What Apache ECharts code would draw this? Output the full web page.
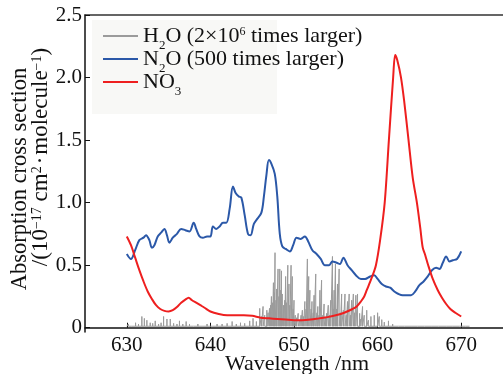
<!DOCTYPE html>
<html><head><meta charset="utf-8">
<script src="https://cdn.jsdelivr.net/npm/echarts@6/dist/echarts.min.js"></script>
<style>html,body{margin:0;padding:0;background:#fff}#c{width:503px;height:374px}</style>
</head><body><div id="c"></div>
<script>
const xTicks = [630, 640, 650, 660, 670];
const yTicks = [0, 0.5, 1.0, 1.5, 2.0, 2.5];
const seriesNames = ['H2O', 'N2O', 'NO3'];
const legendLabels = {
  'H2O': 'H{sub|2}O (2×10{sup|6} times larger)',
  'N2O': 'N{sub|2}O (500 times larger)',
  'NO3': 'NO{sub|3}'
};
const n2o = [[630,0.59],[630.5,0.55],[631,0.62],[631.5,0.70],[632,0.72],[632.3,0.74],[632.7,0.70],[633,0.64],[633.3,0.66],[633.7,0.73],[634.1,0.76],[634.5,0.79],[634.8,0.74],[635.1,0.68],[635.5,0.72],[636,0.75],[636.5,0.79],[637,0.78],[637.5,0.77],[638,0.84],[638.3,0.79],[638.7,0.73],[639.1,0.72],[639.6,0.73],[640,0.73],[640.3,0.81],[640.7,0.79],[641.1,0.81],[641.5,0.84],[641.9,0.84],[642.3,0.95],[642.7,1.13],[643,1.08],[643.4,1.05],[643.7,1.04],[644.1,0.90],[644.5,0.75],[644.8,0.74],[645.2,0.83],[645.6,0.87],[646.1,0.92],[646.4,1.05],[646.7,1.22],[647.0,1.34],[647.3,1.31],[647.7,1.23],[648.0,1.05],[648.3,0.75],[648.6,0.65],[649.0,0.63],[649.5,0.61],[649.9,0.66],[650.3,0.72],[650.8,0.71],[651.3,0.73],[651.7,0.69],[652.2,0.62],[652.7,0.59],[653.2,0.55],[653.7,0.50],[654.2,0.50],[654.6,0.53],[655.1,0.52],[655.5,0.51],[655.9,0.56],[656.4,0.50],[656.9,0.46],[657.4,0.42],[658,0.39],[658.5,0.39],[659.1,0.41],[659.6,0.42],[660,0.39],[660.5,0.35],[661,0.33],[661.5,0.32],[662,0.29],[662.5,0.27],[663,0.26],[663.5,0.26],[664,0.26],[664.5,0.29],[665,0.34],[665.5,0.37],[666,0.41],[666.5,0.46],[667,0.48],[667.4,0.47],[667.8,0.52],[668.2,0.57],[668.6,0.53],[669,0.54],[669.5,0.55],[670,0.61]];
const no3 = [[630,0.73],[630.5,0.66],[631,0.56],[631.5,0.46],[632,0.37],[632.5,0.29],[633,0.23],[633.5,0.18],[634,0.15],[634.5,0.135],[635,0.13],[635.5,0.14],[636,0.165],[636.5,0.20],[637,0.225],[637.4,0.24],[637.8,0.22],[638.3,0.20],[638.8,0.18],[639.3,0.16],[640,0.13],[641,0.11],[642,0.10],[643,0.10],[644,0.10],[645,0.095],[646,0.08],[647,0.075],[648,0.07],[649,0.065],[650,0.06],[651,0.06],[652,0.065],[653,0.075],[654,0.085],[655,0.10],[656,0.12],[657,0.15],[657.5,0.17],[658,0.21],[658.4,0.25],[658.7,0.30],[659.3,0.40],[659.8,0.50],[660.3,0.70],[660.85,1.0],[661.35,1.5],[661.86,2.0],[662.1,2.18],[662.35,2.14],[662.8,2.0],[663.2,1.8],[663.7,1.5],[664.2,1.2],[664.7,1.0],[665.1,0.8],[665.4,0.64],[665.7,0.58],[666.05,0.50],[666.6,0.39],[667.2,0.30],[667.7,0.24],[668.2,0.19],[668.7,0.15],[669.3,0.12],[670,0.09]];
const h2oBase = 0.012;
const h2oLines = [[630.2,0.03],[630.6,0.025],[631.05,0.04],[631.4,0.03],[631.8,0.09],[632.1,0.075],[632.4,0.06],[632.8,0.04],[633.1,0.035],[633.4,0.055],[633.8,0.03],[634.1,0.04],[634.4,0.09],[634.8,0.07],[635.2,0.07],[635.6,0.035],[636.0,0.03],[636.3,0.055],[636.7,0.03],[637.1,0.05],[637.5,0.03],[638,0.025],[638.5,0.03],[639,0.025],[639.6,0.03],[640.2,0.025],[640.8,0.03],[641.4,0.03],[642,0.035],[642.6,0.05],[643.1,0.03],[643.6,0.04],[644.1,0.035],[644.7,0.055],[645.1,0.075],[645.5,0.05],[645.9,0.155],[646.1,0.09],[646.3,0.17],[646.5,0.1],[646.75,0.14],[646.9,0.12],[647.07,0.155],[647.2,0.18],[647.3,0.25],[647.45,0.2],[647.54,0.36],[647.65,0.28],[647.73,0.60],[647.85,0.22],[647.93,0.31],[648.09,0.47],[648.2,0.25],[648.3,0.47],[648.4,0.3],[648.5,0.455],[648.6,0.27],[648.75,0.18],[648.9,0.22],[649.0,0.41],[649.1,0.2],[649.26,0.50],[649.4,0.35],[649.5,0.18],[649.65,0.50],[649.8,0.41],[649.9,0.15],[650.0,0.22],[650.15,0.1],[650.3,0.08],[650.5,0.115],[650.7,0.06],[650.85,0.1],[651.0,0.14],[651.15,0.09],[651.3,0.21],[651.45,0.15],[651.6,0.55],[651.76,0.41],[651.9,0.30],[652.05,0.15],[652.15,0.21],[652.3,0.12],[652.4,0.26],[652.6,0.43],[652.75,0.12],[652.85,0.17],[653.0,0.1],[653.1,0.30],[653.3,0.38],[653.45,0.1],[653.6,0.19],[653.75,0.08],[653.9,0.115],[654.1,0.18],[654.25,0.1],[654.4,0.22],[654.6,0.57],[654.7,0.15],[654.8,0.30],[654.96,0.51],[655.1,0.15],[655.2,0.35],[655.4,0.47],[655.55,0.12],[655.7,0.27],[655.9,0.14],[656.1,0.27],[656.25,0.1],[656.4,0.21],[656.6,0.27],[656.75,0.1],[656.9,0.22],[657.1,0.27],[657.25,0.12],[657.4,0.26],[657.6,0.27],[657.85,0.115],[658.0,0.07],[658.2,0.17],[658.4,0.10],[658.7,0.14],[658.9,0.06],[659.2,0.09],[659.6,0.10],[660.0,0.12],[660.2,0.09],[660.5,0.065],[660.8,0.045],[661.3,0.055],[661.8,0.03],[662.5,0.025],[663.2,0.025],[664,0.02],[664.8,0.025],[665.6,0.02],[666.5,0.025],[667.3,0.02],[668.2,0.02],[669,0.025],[669.8,0.02],[670.5,0.02]];
const h2oStart = 630, h2oEnd = 671;

const FF = '"Liberation Serif", "Times New Roman", serif';
const h2oData = [[h2oStart, h2oBase]];
h2oLines.forEach(([x, h]) => { h2oData.push([x, h2oBase], [x, h], [x, h2oBase]); });
h2oData.push([h2oEnd, h2oBase]);

const chart = echarts.init(document.getElementById('c'), null, {renderer: 'canvas'});
chart.setOption({
  animation: false,
  backgroundColor: '#fff',
  grid: {left: 85, top: 15, width: 426.25, height: 317},
  xAxis: [{
    type: 'value', min: 625, max: 675, position: 'bottom',
    axisLine: {lineStyle: {color: '#111', width: 1.5}},
    axisTick: {inside: true, length: 5, customValues: xTicks, lineStyle: {color: '#111', width: 1}},
    axisLabel: {customValues: xTicks, fontFamily: FF, fontSize: 21, color: '#111', margin: 3},
    splitLine: {show: false}
  }, {
    type: 'value', min: 625, max: 675, position: 'top',
    axisLine: {lineStyle: {color: '#333', width: 1.5}},
    axisTick: {show: false}, axisLabel: {show: false}, splitLine: {show: false}
  }],
  yAxis: {
    type: 'value', min: -0.034, max: 2.5,
    axisLine: {show: true, lineStyle: {color: '#111', width: 1.5}},
    axisTick: {show: true, inside: true, length: 5, customValues: yTicks, lineStyle: {color: '#111', width: 1}},
    axisLabel: {customValues: yTicks, fontFamily: FF, fontSize: 21, color: '#111', margin: 3,
      formatter: v => v === 0 ? '0' : v.toFixed(1)},
    splitLine: {show: false}
  },
  legend: {
    orient: 'vertical', left: 98, top: 20, itemWidth: 35, itemHeight: 2, itemGap: -4,
    icon: 'rect',
    data: seriesNames,
    formatter: n => legendLabels[n],
    textStyle: {fontFamily: FF, fontSize: 22, color: '#111', lineHeight: 22,
      rich: {
        sub: {fontFamily: FF, fontSize: 13, color: '#111', verticalAlign: 'top', lineHeight: 13, padding: [14, 0, 0, 0]},
        sup: {fontFamily: FF, fontSize: 12, color: '#111', verticalAlign: 'top', lineHeight: 12, padding: [1, 0, 0, 0]}
      }}
  },
  graphic: [
    {type: 'rect', x: 92, y: 20, z: -10, silent: true, shape: {width: 185, height: 94}, style: {fill: '#f8f8f6'}},
    {type: 'text', x: 297, y: 364, style: {text: 'Wavelength /nm', fontFamily: FF, fontSize: 22, fill: '#111', align: 'center', verticalAlign: 'middle'}},
    {type: 'text', x: 20, y: 179, rotation: Math.PI / 2, style: {text: 'Absorption cross section', fontFamily: FF, fontSize: 22.5, fill: '#111', align: 'center', verticalAlign: 'middle'}},
    {type: 'text', x: 41, y: 157, rotation: Math.PI / 2, style: {text: '/(10{sup|−17} cm{sup|2}{dot|·}molecule{sup|−1})', fontFamily: FF, fontSize: 23, fill: '#111', align: 'center', verticalAlign: 'middle', lineHeight: 22,
      rich: {sup: {fontFamily: FF, fontSize: 14, fill: '#111', verticalAlign: 'top', lineHeight: 13},
             dot: {fontFamily: FF, fontSize: 23, fill: '#111', padding: [0, 2, 0, 2]}}}}
  ],
  series: [
    {name: 'H2O', type: 'line', data: h2oData, symbol: 'none', showSymbol: false, z: 1,
      lineStyle: {color: '#9b9b9b', width: 1}, itemStyle: {color: '#9b9b9b'}},
    {name: 'N2O', type: 'line', data: n2o, symbol: 'none', showSymbol: false, smooth: 0.35, z: 3,
      lineStyle: {color: '#2b58a8', width: 2}, itemStyle: {color: '#2b58a8'}},
    {name: 'NO3', type: 'line', data: no3, symbol: 'none', showSymbol: false, smooth: 0.3, z: 4,
      lineStyle: {color: '#ee1f1f', width: 2}, itemStyle: {color: '#ee1f1f'}}
  ]
});
</script></body></html>
